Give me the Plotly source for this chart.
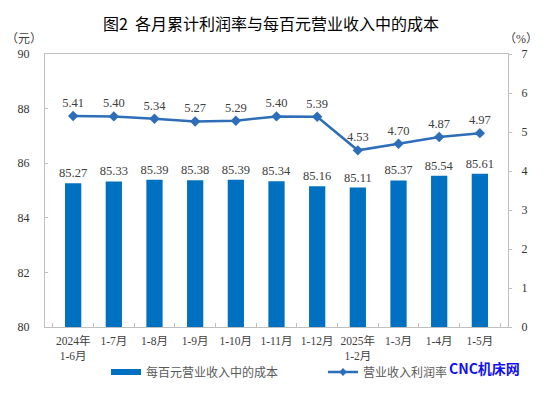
import plotly.graph_objects as go

categories = ["2024年<br>1-6月", "1-7月", "1-8月", "1-9月", "1-10月", "1-11月",
              "1-12月", "2025年<br>1-2月", "1-3月", "1-4月", "1-5月"]
cost_per_100 = [85.27, 85.33, 85.39, 85.38, 85.39, 85.34, 85.16, 85.11, 85.37, 85.54, 85.61]
profit_rate = [5.41, 5.40, 5.34, 5.27, 5.29, 5.40, 5.39, 4.53, 4.70, 4.87, 4.97]
left_ticks = [80, 82, 84, 86, 88, 90]
right_ticks = [0, 1, 2, 3, 4, 5, 6, 7]

BAR_NAME = "每百元营业收入中的成本"
LINE_NAME = "营业收入利润率"
BAR_COLOR = "#0070C0"
LINE_COLOR = "#2E6DB8"
SERIF = "Liberation Serif, Times New Roman, Noto Sans CJK SC, serif"
SANS = "Noto Sans CJK SC, sans-serif"

W, H = 549, 394
L, R, T, B = 45, 41, 54, 67
pw, ph = W - L - R, H - T - B

def px_x(x):
    return (x - L) / pw

def px_y(y):
    return (H - B - y) / ph

fig = go.Figure()

fig.add_trace(go.Bar(
    x=categories, y=cost_per_100, name=BAR_NAME, showlegend=False,
    marker=dict(color=BAR_COLOR, line=dict(width=0)), width=0.4,
    text=[f"{v:.2f}" for v in cost_per_100], textposition="outside",
    textfont=dict(family=SERIF, size=12.5, color="#404040"),
    cliponaxis=False, yaxis="y",
))

fig.add_trace(go.Scatter(
    x=categories, y=profit_rate, name=LINE_NAME, showlegend=False,
    mode="lines+markers+text",
    line=dict(color=LINE_COLOR, width=2.5),
    marker=dict(symbol="diamond", size=8, color=LINE_COLOR),
    text=[f"{v:.2f}" for v in profit_rate], textposition="top center",
    textfont=dict(family=SERIF, size=12.5, color="#404040"),
    cliponaxis=False, yaxis="y2",
))

# legend entries
fig.add_trace(go.Scatter(
    x=[None], y=[None], name=BAR_NAME, mode="lines",
    line=dict(color=BAR_COLOR, width=6), yaxis="y",
))
fig.add_trace(go.Scatter(
    x=[None], y=[None], name=LINE_NAME, mode="lines+markers",
    line=dict(color=LINE_COLOR, width=2.5),
    marker=dict(symbol="diamond", size=6, color=LINE_COLOR), yaxis="y2",
))

axis_line = "#BFBFBF"
fig.update_layout(
    width=W, height=H,
    margin=dict(l=L, r=R, t=T, b=B, pad=0, autoexpand=False),
    paper_bgcolor="white", plot_bgcolor="white",
    uniformtext=dict(minsize=12.5, mode="show"),
    title=dict(text="图2  各月累计利润率与每百元营业收入中的成本",
               x=271 / W, xanchor="center", y=1 - 24 / H, yanchor="middle",
               font=dict(family=SANS, size=16, color="#000000")),
    bargap=0.6,
    xaxis=dict(
        type="category", showline=True, linecolor=axis_line, linewidth=1,
        mirror=True, ticks="inside", ticklen=4, tickcolor=axis_line,
        tickson="boundaries", showgrid=False, tickangle=0, automargin=False,
        ticklabelstandoff=3,
        tickfont=dict(family=SERIF, size=11.5, color="#404040"),
    ),
    yaxis=dict(
        range=[80, 90], tickvals=left_ticks, showgrid=False, zeroline=False,
        showline=True, linecolor=axis_line, linewidth=1,
        ticks="inside", ticklen=3, tickcolor=axis_line,
        ticklabelstandoff=12, automargin=False,
        tickfont=dict(family=SERIF, size=12, color="#333333"),
    ),
    yaxis2=dict(
        range=[0, 7], tickvals=right_ticks, overlaying="y", side="right",
        showgrid=False, zeroline=False,
        showline=True, linecolor=axis_line, linewidth=1,
        ticks="outside", ticklen=3, tickcolor=axis_line,
        ticklabelstandoff=7, automargin=False,
        tickfont=dict(family=SERIF, size=12, color="#333333"),
    ),
    legend=dict(
        orientation="h", x=px_x(106), xanchor="left",
        y=px_y(372), yanchor="middle",
        font=dict(family=SANS, size=12, color="#595959"),
        entrywidth=172, entrywidthmode="pixels",
        bgcolor="rgba(0,0,0,0)", itemclick=False,
    ),
    annotations=[
        dict(text="（元）", x=px_x(24), y=px_y(39), xref="paper", yref="paper",
             showarrow=False, xanchor="center", yanchor="middle",
             font=dict(family=SERIF, size=12, color="#404040")),
        dict(text="（%）", x=px_x(521), y=px_y(39), xref="paper", yref="paper",
             showarrow=False, xanchor="center", yanchor="middle",
             font=dict(family=SERIF, size=12, color="#404040")),
        dict(text="<b>CNC机床网</b>", x=px_x(484), y=px_y(368), xref="paper", yref="paper",
             showarrow=False, xanchor="center", yanchor="middle",
             font=dict(family=SANS, size=14, color="#1010F0")),
    ],
)

fig.write_html("out.html", config={"displayModeBar": False},
               post_script="document.body.style.margin='0';")
